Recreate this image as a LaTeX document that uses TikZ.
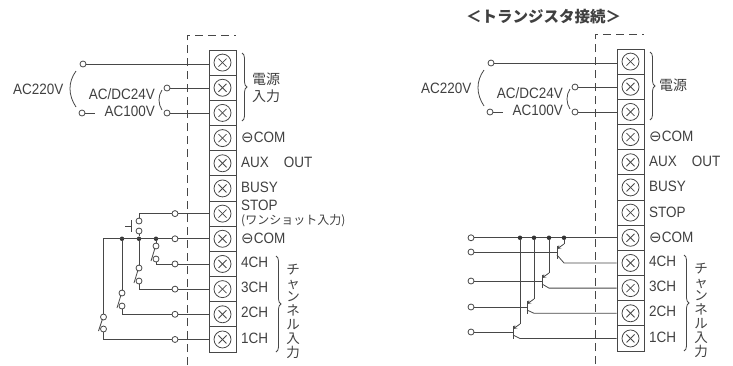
\documentclass[tikz,border=0pt]{standalone}
\usepackage{fontspec}
\setmainfont{Liberation Sans}[FakeStretch=0.9]
\newfontfamily\jpfont{Noto Sans CJK JP}
\newfontfamily\symfont{DejaVu Sans}
\usetikzlibrary{decorations.pathreplacing, calc}

\definecolor{wirecol}{gray}{0.28}

\newcommand{\minuscom}{{\symfont ⊖}COM}

\tikzset{
    wire/.style={draw=wirecol, line width=0.8pt},
    termbox/.style={draw=wirecol, line width=1pt, minimum width=27pt, minimum height=25.17pt, inner sep=0pt},
    screw/.style={circle, draw=wirecol, line width=0.8pt, minimum size=17pt, inner sep=0pt},
    contact/.style={circle, draw=wirecol, line width=0.8pt, fill=white, minimum size=6pt, inner sep=0pt},
    busdot/.style={circle, fill=black!80, minimum size=4.5pt, inner sep=0pt},
    lbl/.style={anchor=west, inner sep=0pt, text=black!75, font=\fontsize{15}{16}\selectfont},
    lblj/.style={inner sep=0pt, text=black!75, align=center, font=\fontsize{14}{17}\selectfont\jpfont},
    vlbl/.style={lblj, font=\fontsize{13.5}{13.8}\selectfont\jpfont},
    casing/.style={draw=wirecol, line width=0.9pt, dash pattern=on 8pt off 5pt},
    bracer/.style={draw=wirecol, line width=0.8pt, decorate, decoration={brace, amplitude=5pt}},
}

\begin{document}
\begin{tikzpicture}[x=1pt, y=-1pt]
    \useasboundingbox (0,0) rectangle (733,365);

    % Parts that both panels have: l is the relay contact panel, r the transistor panel
    \foreach \p/\ox/\oy in {l/0/0, r/408/-1} {
    \begin{scope}[shift={(\ox,\oy)}]

        % Draw the dashed casing outline
        \draw[casing] (187,365) -- (187,35) -- (236,35);

        % Draw the terminal strip
        \foreach \k in {1,...,12} {
            \node[termbox] (T\p\k) at (222.5,{50+25.17*(\k-0.5)}) {};
            \node[screw] (S\p\k) at (T\p\k) {};
            \draw[wire] ([shift={(-4,-4)}]S\p\k.center) -- ([shift={(4,4)}]S\p\k.center);
            \draw[wire] ([shift={(-4,4)}]S\p\k.center) -- ([shift={(4,-4)}]S\p\k.center);
        }

        % Power wiring
        \node[contact] (P\p a) at (83,64) {};
        \node[contact] (P\p b) at (167,88) {};
        \node[contact] (P\p c) at (167,113) {};
        \node[contact] (P\p d) at (82,113) {};
        \coordinate (P\p e) at (95,113);
        \draw[wire] (P\p a) -- (P\p a -| T\p1.west);
        \draw[wire] (P\p b) -- (P\p b -| T\p2.west);
        \draw[wire] (P\p c) -- (P\p c -| T\p3.west);
        \draw[wire] (P\p d) -- (P\p e);
        \draw[wire] (76,71) .. controls (68,82) and (68,95) .. (76,107);
        \draw[wire] (162,90) .. controls (158,96) and (158,104) .. (162,110);

        % Label the voltages
        \node[lbl] (V\p a) at (13,89) {AC220V};
        \node[lbl, anchor=east] (V\p b) at (155,94) {AC/DC24V};
        \node[lbl, anchor=east] (V\p c) at (155,111) {AC100V};

        % Label the terminals
        \node[lbl] (N\p a) at (241,137) {\minuscom};
        \node[lbl] (N\p b) at (241,162) {AUX\hspace{15pt}OUT};
        \node[lbl] (N\p c) at (241,187) {BUSY};
        \node[lbl] (N\p d) at (241,238.5) {\minuscom};
        \node[lbl] (N\p e) at (241,262) {4CH};
        \node[lbl] (N\p f) at (241,287) {3CH};
        \node[lbl] (N\p g) at (241,312.5) {2CH};
        \node[lbl] (N\p h) at (241,338) {1CH};

        % Braces
        \draw[bracer] (242,53) -- (242,121);
        \draw[bracer] (276,256) -- (276,352);
        \node[vlbl] (C\p) at (293,311) {チ\\ャ\\ン\\ネ\\ル\\入\\力};
    \end{scope}
    }

    % Left panel labels
    \node[lblj] (powerl) at (266,88) {電源\\入力};
    \node[lbl] (stopl) at (241,205) {STOP};
    \node[lbl, font=\fontsize{12}{14}\selectfont\jpfont] (shotl) at (241,221) {(ワンショット入力)};

    % Left panel contacts
    \foreach \k in {7,...,12} {
        \node[contact] (Cl\k) at (175,0 |- Tl\k) {};
        \draw[wire] (Cl\k) -- (Tl\k.west);
    }
    \foreach \k/\x/\ya/\yb in {9/156/246/259, 10/139/268/281, 11/122/293/306, 12/103.5/317/329} {
        \node[contact] (Wl\k) at (\x,\ya) {};
        \node[contact] (Xl\k) at (\x,\yb) {};
        \draw[wire] (Xl\k) |- (Cl\k);
        \draw[wire] ({\x-5},{\yb+2}) -- ({\x-1},{\ya+2});
    }
    \node[busdot] (Dl9) at (156,0 |- Cl8) {};
    \node[busdot] (Dl10) at (139,0 |- Cl8) {};
    \node[busdot] (Dl11) at (122,0 |- Cl8) {};
    \coordinate (Dl12) at (103.5,0 |- Cl8);
    \draw[wire] (Cl8) -- (Dl12) -- (Wl12);
    \draw[wire] (Dl9) -- (Wl9);
    \draw[wire] (Dl10) -- (Wl10);
    \draw[wire] (Dl11) -- (Wl11);

    % Left panel push button
    \node[contact] (Bl a) at (139,221) {};
    \node[contact] (Bl b) at (139,231) {};
    \draw[wire] (Cl7) -| (Bl a);
    \draw[wire] (Bl b) -- (Dl10);
    \draw[wire] (131,220) -- (131,232);
    \draw[wire] (125,226) -- (131,226);

    % Right panel title and labels
    \node[lblj, font=\fontsize{15.5}{17}\selectfont\jpfont\bfseries] (titler) at (543.5,17) {＜トランジスタ接続＞};
    \node[lblj] (powerr) at (673,85) {電源};
    \node[lbl] (stopr) at (649,212) {STOP};

    % Right panel transistors
    \node[contact] (Cr8) at (471,0 |- Tr8) {};
    \draw[wire] (Cr8) -- (Tr8.west);
    \foreach \k/\x/\y in {9/557/252, 10/542/281, 11/527/307, 12/513/332} {
        \node[contact] (Ir\k) at (471,\y) {};
        \node[busdot] (Dr\k) at ({\x+7},0 |- Cr8) {};
        \coordinate (Qr\k) at (\x,\y);
        \coordinate (Kr\k) at ({\x+7},{\y-8});
        \coordinate (Er\k) at ({\x+7},0 |- Tr\k);
        \draw[wire] (Ir\k) -- (Qr\k);
        \draw[wire] ([yshift=6.5pt]Qr\k) -- ([yshift=-6.5pt]Qr\k);
        \draw[wire] (Dr\k) -- (Kr\k);
        \draw[wire, -stealth] (Kr\k) -- ([yshift=3pt]Qr\k);
        \draw[wire] ([yshift=-3pt]Qr\k) -- (Er\k) -- (Tr\k.west);
    }

\end{tikzpicture}
\end{document}
